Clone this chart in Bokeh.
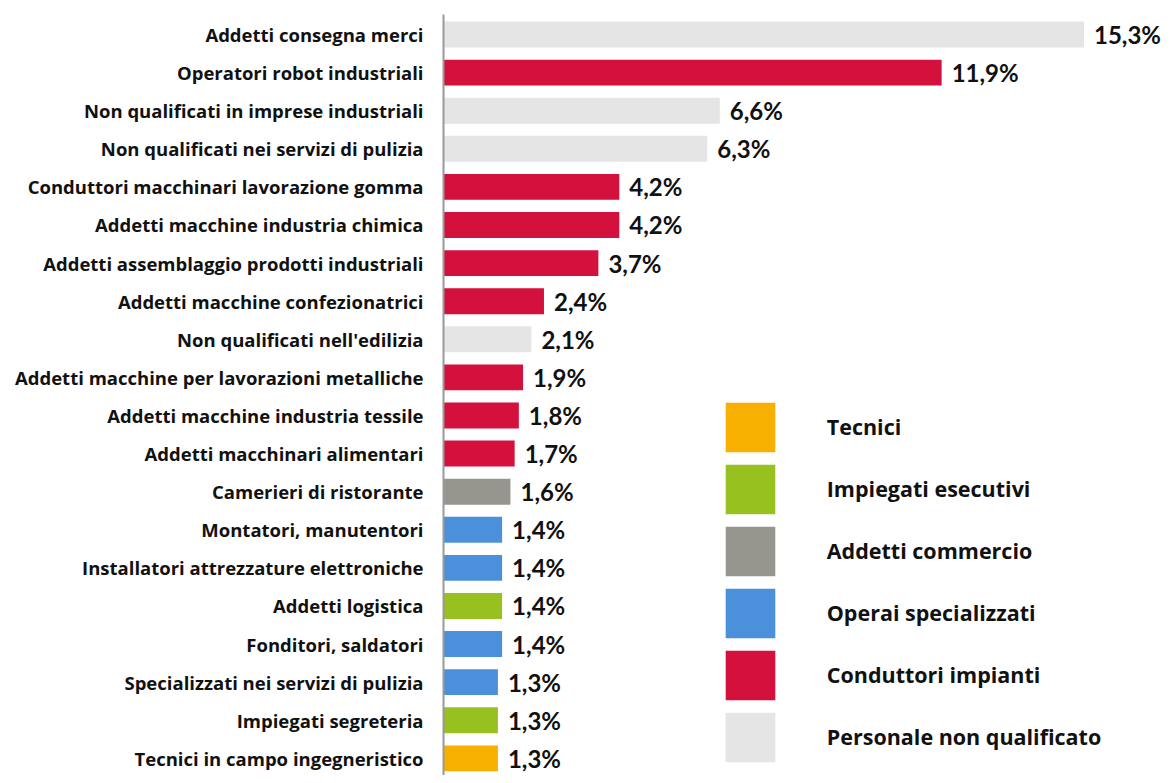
from bokeh.plotting import figure
from bokeh.models import ColumnDataSource, Range1d, FixedTicker, Legend, LegendItem
from bokeh.core.properties import value
from bokeh.embed import file_html
from bokeh.resources import INLINE

categories = [
    "Addetti consegna merci",
    "Operatori robot industriali",
    "Non qualificati in imprese industriali",
    "Non qualificati nei servizi di pulizia",
    "Conduttori macchinari lavorazione gomma",
    "Addetti macchine industria chimica",
    "Addetti assemblaggio prodotti industriali",
    "Addetti macchine confezionatrici",
    "Non qualificati nell'edilizia",
    "Addetti macchine per lavorazioni metalliche",
    "Addetti macchine industria tessile",
    "Addetti macchinari alimentari",
    "Camerieri di ristorante",
    "Montatori, manutentori",
    "Installatori attrezzature elettroniche",
    "Addetti logistica",
    "Fonditori, saldatori",
    "Specializzati nei servizi di pulizia",
    "Impiegati segreteria",
    "Tecnici in campo ingegneristico",
]
values = [15.3, 11.9, 6.6, 6.3, 4.2, 4.2, 3.7, 2.4, 2.1, 1.9,
          1.8, 1.7, 1.6, 1.4, 1.4, 1.4, 1.4, 1.3, 1.3, 1.3]
groups = [
    "Personale non qualificato", "Conduttori impianti", "Personale non qualificato",
    "Personale non qualificato", "Conduttori impianti", "Conduttori impianti",
    "Conduttori impianti", "Conduttori impianti", "Personale non qualificato",
    "Conduttori impianti", "Conduttori impianti", "Conduttori impianti",
    "Addetti commercio", "Operai specializzati", "Operai specializzati",
    "Impiegati esecutivi", "Operai specializzati", "Operai specializzati",
    "Impiegati esecutivi", "Tecnici",
]
legend_groups = ["Tecnici", "Impiegati esecutivi", "Addetti commercio",
                 "Operai specializzati", "Conduttori impianti", "Personale non qualificato"]
group_colors = ["#F8B000", "#96C11F", "#97968E", "#4B90DA", "#D4103C", "#E5E5E5"]

n = len(categories)
ypos = list(range(n))

p = figure(width=1163, height=775, output_backend="svg", toolbar_location=None,
           x_range=Range1d(0, 17.2), y_range=Range1d(19.45, -0.525),
           x_axis_location=None, min_border_left=443, min_border_right=0,
           min_border_top=14, min_border_bottom=0)
p.outline_line_color = None
p.xgrid.visible = False
p.ygrid.visible = False
p.background_fill_color = "white"

yax = p.yaxis[0]
yax.ticker = FixedTicker(ticks=ypos)
yax.major_label_overrides = {i: c for i, c in enumerate(categories)}
yax.major_tick_line_color = None
yax.minor_tick_line_color = None
yax.axis_line_color = "#999999"
yax.axis_line_width = 2
yax.major_label_standoff = 14
yax.major_label_text_font = "Open Sans"
yax.major_label_text_font_style = "bold"
yax.major_label_text_font_size = "18.5px"
yax.major_label_text_color = "#111111"

renderers = {}
for g, col in zip(legend_groups, group_colors):
    idx = [i for i in range(n) if groups[i] == g]
    src = ColumnDataSource(dict(y=[ypos[i] for i in idx], v=[values[i] for i in idx]))
    r = p.hbar(y="y", right="v", left=0, height=0.68, source=src,
               fill_color=col, line_color=None)
    renderers[g] = r

labels = [f"{v:.1f}".replace(".", ",") + "%" for v in values]
lsrc = ColumnDataSource(dict(x=values, y=ypos, t=labels))
p.text(x="x", y="y", text="t", source=lsrc, x_offset=10, y_offset=0,
       text_align="left", text_baseline="middle",
       text_font=value("Lato"), text_font_style="bold", text_font_size="24px",
       text_color="#111111")

legend = Legend(items=[LegendItem(label=g, renderers=[renderers[g]]) for g in legend_groups],
                location=(275.75, 7.25), orientation="vertical",
                glyph_width=62, glyph_height=62, spacing=0, label_standoff=46,
                padding=0, margin=0, border_line_color=None, background_fill_alpha=0,
                label_text_font="Open Sans", label_text_font_style="bold",
                label_text_font_size="21.5px", label_text_color="#111111",
                label_text_baseline="middle")
p.add_layout(legend, "center")

open("out.html", "w").write(file_html(p, INLINE))
